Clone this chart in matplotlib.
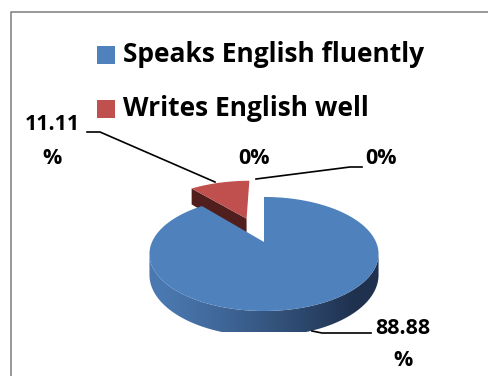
import numpy as np
import matplotlib.pyplot as plt
from matplotlib.patches import Polygon, Rectangle

# Survey shares (percent)
categories = ["Speaks English fluently", "Writes English well", "", ""]
values = [88.88, 11.11, 0.0, 0.0]
label_text = ["88.88\n%", "11.11\n%", "0%", "0%"]
colors = ["#4f81bd", "#c0504d"]
side_colors = ["#3d6699", "#4f1e1d"]

W, H = 488, 376
fig = plt.figure(figsize=(W / 100, H / 100), dpi=100)
ax = fig.add_axes([0, 0, 1, 1])
ax.set_xlim(0, W)
ax.set_ylim(H, 0)
ax.axis("off")

plt.rcParams["font.family"] = ["Open Sans", "DejaVu Sans"]

# chart frame
ax.plot([11, 11, W + 5], [H + 5, 12, 12], color="#868686", lw=1.2)

# pie geometry (screen px) with a simple perspective squeeze
cx, cy = 264, 242
A, B, k, depth = 112, 54.5, 0.21, 20


def proj(u, v, z=0.0):
    d = 1 - k * v
    return cx + A * u / d, cy + (B * v + depth * z) / d


def pt(phi, r=1.0, off=(0.0, 0.0), z=0.0):
    # phi in degrees, clockwise from 12 o'clock
    a = np.radians(phi)
    return proj(off[0] + r * np.sin(a), off[1] - r * np.cos(a), z)


total = sum(values)
spans = [v / total * 360 for v in values]
starts = np.concatenate([[0], np.cumsum(spans)[:-1]])

# red slice pulled out along its bisector
explode = [0.0, 0.5, 0.0, 0.0]


def offset(i):
    mid = np.radians(starts[i] + spans[i] / 2)
    return (explode[i] * np.sin(mid), -explode[i] * np.cos(mid))


# --- red slice (behind) ---
i = 1
off = offset(i)
s, e = starts[i], starts[i] + spans[i]
apex_t = proj(off[0], off[1], 0)
apex_b = proj(off[0], off[1], 1)
face = [apex_t, pt(s, off=off), pt(s, off=off, z=1), apex_b]
ax.add_patch(Polygon(face, closed=True, fc=side_colors[1], ec="none"))
arc = [pt(p, off=off) for p in np.linspace(s, e, 40)]
ax.add_patch(Polygon([apex_t] + arc, closed=True, fc=colors[1], ec="none"))

# --- blue slice ---
i = 0
off = offset(i)
s, e = starts[i], starts[i] + spans[i]
# front rim between the silhouette angles, gradient fill clipped to the rim
sil = np.degrees(np.arccos(-k))
rim_phis = np.linspace(sil, 360 - sil, 200)
top_edge = [pt(p, off=off) for p in rim_phis]
bot_edge = [pt(p, off=off, z=1) for p in rim_phis[::-1]]
rim = Polygon(top_edge + bot_edge, closed=True, fc="none", ec="none")
ax.add_patch(rim)
xs = np.array([q[0] for q in top_edge])
x0, x1 = xs.min(), xs.max()
c_light = np.array([0x4a, 0x78, 0xb0]) / 255
c_dark = np.array([0x1f, 0x31, 0x4e]) / 255
t = np.linspace(0, 1, 256)
t = np.clip((t - 0.05) / 0.85, 0, 1) ** 1.2
grad = (c_light[None, :] * (1 - t[:, None]) + c_dark[None, :] * t[:, None])[None, :, :]
img = ax.imshow(grad, extent=(x0, x1, cy + 90, cy - 10), aspect="auto",
                interpolation="bilinear", zorder=1)
img.set_clip_path(rim)
apex = proj(off[0], off[1], 0)
arc = [pt(p, off=off) for p in np.linspace(s, e, 200)]
ax.add_patch(Polygon([apex] + arc, closed=True, fc=colors[0], ec="none", zorder=2))
ax.set_xlim(0, W)
ax.set_ylim(H, 0)

# --- labels and leader lines ---
fs = 15.5
kw = dict(fontsize=fs, fontweight="bold", ha="center", va="center", zorder=3)
ax.text(52, 125, "11.11", **kw)
ax.text(52, 158, "%", **kw)
ax.plot([87, 100, 215], [132, 132, 182], color="black", lw=1.2)

ax.text(254, 158, label_text[2], **kw)
ax.text(381, 158, label_text[3], **kw)
ax.plot([256, 350, 362], [179, 167, 167], color="black", lw=1.2)

ax.text(403, 328, "88.88", **kw)
ax.text(403, 360, "%", **kw)
ax.plot([312, 322, 371], [331, 333, 333], color="black", lw=1.2, zorder=3)

# --- legend ---
for name, col, y in [(categories[0], colors[0], 55), (categories[1], colors[1], 109)]:
    ax.add_patch(Rectangle((97, y - 9), 18, 18, fc=col, ec="none"))
    ax.text(123, y, name, fontsize=19, fontweight="bold", ha="left", va="center")

fig.savefig("out.png", dpi=100)
plt.close(fig)
